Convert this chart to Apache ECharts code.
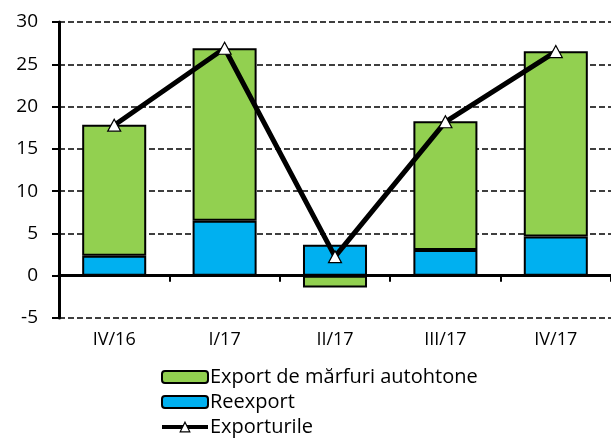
<!DOCTYPE html>
<html>
<head>
<meta charset="utf-8">
<script src="https://cdn.jsdelivr.net/npm/echarts@6/dist/echarts.min.js"></script>
<style>
  html, body { margin: 0; padding: 0; background: #fff; }
  #chart { width: 611px; height: 439px; }
</style>
</head>
<body>
<div id="chart"></div>
<script>
var categories = ['IV/16', 'I/17', 'II/17', 'III/17', 'IV/17'];
var domesticExport = [15.5, 20.4, -1.4, 15.2, 21.9];
var reexport = [2.35, 6.5, 3.65, 3.05, 4.65];
var exportsTotal = [17.8, 26.9, 2.25, 18.2, 26.5];
var yTicks = { min: -5, max: 30, step: 5 };

var font = 'Open Sans';
var chart = echarts.init(document.getElementById('chart'));
chart.setOption({
  backgroundColor: '#fff',
  animation: false,
  textStyle: { fontFamily: font },
  grid: { left: 59, top: 22, right: -9, bottom: 121 },
  legend: {
    orient: 'vertical',
    left: 155,
    top: 362,
    height: 100,
    itemWidth: 46,
    itemHeight: 12,
    itemGap: 5,
    textStyle: { color: '#000', fontSize: 20, lineHeight: 20, fontFamily: font, padding: [0, 0, 0, -3] },
    data: [
      'Export de mărfuri autohtone',
      'Reexport',
      { name: 'Exporturile', lineStyle: { width: 4, color: '#000' }, itemStyle: { borderWidth: 1.2 } }
    ]
  },
  xAxis: [
    {
      type: 'category',
      data: categories,
      axisLine: { onZero: true, lineStyle: { color: '#000', width: 3 } },
      axisTick: { show: true, length: 6, lineStyle: { color: '#000', width: 2 } },
      axisLabel: { show: false }
    },
    {
      type: 'category',
      data: categories,
      position: 'bottom',
      axisLine: { show: false, onZero: false },
      axisTick: { show: false },
      axisLabel: { color: '#000', fontSize: 18, margin: 13, fontFamily: font }
    }
  ],
  yAxis: {
    type: 'value',
    min: yTicks.min,
    max: yTicks.max,
    interval: yTicks.step,
    axisLine: { show: true, lineStyle: { color: '#000', width: 3 } },
    axisTick: { show: true, length: 7, lineStyle: { color: '#000', width: 2 } },
    axisLabel: { color: '#000', fontSize: 19, margin: 21, fontFamily: font },
    splitLine: { show: true, lineStyle: { color: '#000', width: 1.5, type: [6, 3] } }
  },
  series: [
    {
      name: 'Reexport',
      type: 'bar',
      stack: 'x',
      barWidth: '58%',
      data: reexport,
      itemStyle: { color: '#00B0F0', borderColor: '#000', borderWidth: 2 }
    },
    {
      name: 'Export de mărfuri autohtone',
      type: 'bar',
      stack: 'x',
      barWidth: '58%',
      data: domesticExport,
      itemStyle: { color: '#92D050', borderColor: '#000', borderWidth: 2 }
    },
    {
      name: 'Exporturile',
      type: 'line',
      data: exportsTotal,
      symbol: 'triangle',
      symbolSize: [13, 12],
      lineStyle: { color: '#000', width: 5 },
      itemStyle: { color: '#fff', borderColor: '#000', borderWidth: 1.2 },
      z: 5
    }
  ]
});
</script>
</body>
</html>
